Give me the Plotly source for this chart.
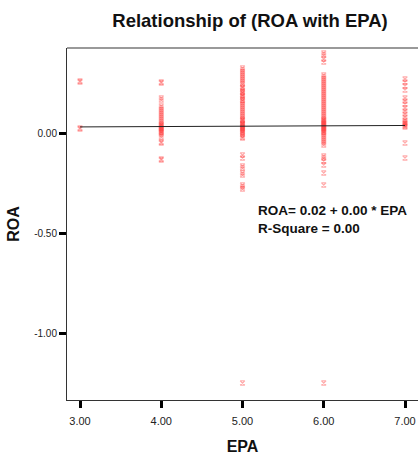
import plotly.graph_objects as go

# EPA categories and observed ROA values per category
epa_levels = [3, 4, 5, 6, 7]
roa_epa3 = [0.26, 0.255, 0.025, 0.02]
roa_epa4 = [0.255, 0.25, 0.175, 0.165, 0.135, 0.125, 0.115, 0.105, 0.095, 0.085, 0.075,
            0.065, 0.055, 0.045, 0.04, 0.035, 0.03, 0.025, 0.02, 0.015, 0.01, 0.005, 0.0,
            -0.01, -0.02, -0.045, -0.05, -0.13, -0.135]
roa_epa5 = [0.325, 0.315, 0.305, 0.295, 0.285, 0.275, 0.265, 0.255, 0.245, 0.23, 0.225, 0.215,
            0.205, 0.2, 0.19, 0.185, 0.175, 0.165, 0.16, 0.15, 0.14, 0.13, 0.12, 0.11, 0.1,
            0.09, 0.08, 0.07, 0.065, 0.06, 0.05, 0.045, 0.04, 0.035, 0.03, 0.025, 0.02, 0.015,
            0.01, 0.005, 0.0, -0.01, -0.02, -0.025, -0.11, -0.125, -0.165, -0.175, -0.2,
            -0.21, -0.26, -0.27, -0.28, -1.25]
roa_epa6 = [0.40, 0.39, 0.37, 0.355, 0.29, 0.28, 0.27, 0.26, 0.25, 0.24, 0.23, 0.22, 0.21,
            0.2, 0.19, 0.18, 0.17, 0.16, 0.15, 0.14, 0.13, 0.12, 0.11, 0.1, 0.09, 0.08, 0.07,
            0.065, 0.06, 0.055, 0.05, 0.045, 0.04, 0.035, 0.03, 0.025, 0.02, 0.015, 0.01,
            0.005, 0.0, -0.01, -0.02, -0.03, -0.04, -0.05, -0.06, -0.115, -0.125, -0.14,
            -0.16, -0.2, -0.26, -1.25]
roa_epa7 = [0.27, 0.255, 0.235, 0.215, 0.175, 0.16, 0.145, 0.125, 0.11, 0.095, 0.08, 0.065,
            0.055, 0.05, 0.045, 0.04, 0.035, 0.03, -0.05, -0.125]
roa_groups = [roa_epa3, roa_epa4, roa_epa5, roa_epa6, roa_epa7]

# Linear fit coefficients (as drawn)
fit_intercept = 0.025
fit_slope = 0.0018
fit_x = [3.0, 7.0]

x_ticks = [3, 4, 5, 6, 7]
x_tick_labels = ["3.00", "4.00", "5.00", "6.00", "7.00"]
y_ticks = [0.0, -0.5, -1.0]
y_tick_labels = ["0.00", "-0.50", "-1.00"]

xs, ys = [], []
for lvl, vals in zip(epa_levels, roa_groups):
    for v in vals:
        xs.append(lvl)
        ys.append(v)

fig = go.Figure()
fig.add_trace(go.Scatter(
    x=xs, y=ys, mode="markers",
    marker=dict(symbol="hourglass-open", size=4.5, color="rgba(255,50,50,0.4)",
                line=dict(width=1.2, color="rgba(255,50,50,0.4)")),
    showlegend=False, hoverinfo="skip"))
fig.add_trace(go.Scatter(
    x=fit_x, y=[fit_intercept + fit_slope * v for v in fit_x], mode="lines",
    line=dict(color="#222", width=1), showlegend=False, hoverinfo="skip"))

fig.update_layout(
    width=418, height=458,
    margin=dict(l=67, r=0, t=48, b=58),
    paper_bgcolor="white", plot_bgcolor="white",
    font=dict(family="Liberation Sans, Arial", color="#222"),
    title=dict(text="<b>Relationship of (ROA with EPA)</b>", x=250/418, xanchor="center",
               y=1 - 20.5/458, yanchor="middle", font=dict(size=18.5, color="#111")),
    xaxis=dict(range=[2.84, 7.16], tickvals=x_ticks, ticktext=x_tick_labels,
               showgrid=False, zeroline=False, showline=True, linecolor="#333", linewidth=1,
               ticks="outside", ticklen=7, tickwidth=3, tickcolor="black",
               ticklabelstandoff=4,
               tickfont=dict(size=11, color="#222"),
               title=dict(text="<b>EPA</b>", font=dict(size=16, color="#111"), standoff=14)),
    yaxis=dict(range=[-1.335, 0.425], tickvals=y_ticks, ticktext=y_tick_labels,
               showgrid=False, zeroline=False, showline=True, linecolor="#333", linewidth=1,
               ticks="outside", ticklen=7, tickwidth=3, tickcolor="black",
               tickfont=dict(size=10, color="#222"),
               title=dict(text="<b>ROA</b>", font=dict(size=16, color="#111"), standoff=10)),
    shapes=[dict(type="line", xref="paper", yref="paper", x0=0, x1=1, y0=1, y1=1,
                 line=dict(color="#999", width=2))],
    annotations=[dict(x=5.165, y=-0.43, xref="x", yref="y", xanchor="left", yanchor="middle",
                      align="left", showarrow=False,
                      text="<b>ROA= 0.02 + 0.00 * EPA</b><br><b>R-Square = 0.00</b>",
                      font=dict(size=13.5, color="#111"))],
)

fig.write_html("out.html")
